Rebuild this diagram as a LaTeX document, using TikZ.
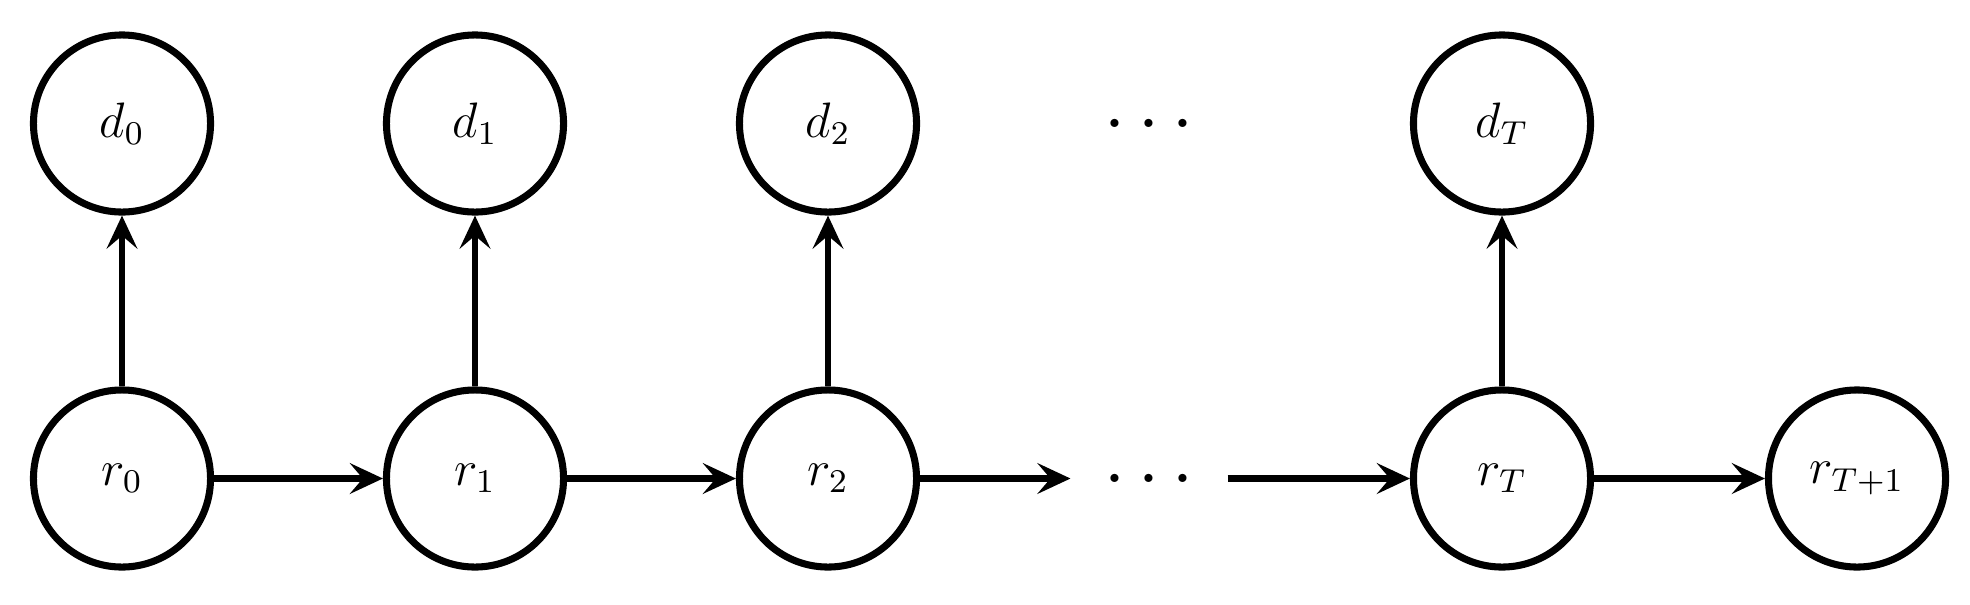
\documentclass[tikz,border=0pt]{standalone}
\usetikzlibrary{arrows.meta}
\newcommand\hdots{{\fontsize{24}{26}\selectfont .\hspace{2.2pt}.\hspace{2.2pt}.}}
\begin{document}
\begin{tikzpicture}[x=0.0847mm, y=-0.0847mm,
  var/.style={circle, draw, line width=1.7pt, minimum size=15mm, inner sep=0pt, font=\fontsize{12}{14}\selectfont},
  dotsnode/.style={rectangle, minimum width=13.3mm, minimum height=5mm, inner sep=0pt, outer sep=0pt},
  conn/.style={line width=1.6pt, -{Stealth[length=2.8mm, width=2.6mm, inset=1.1mm]}}]
\useasboundingbox (0,0) rectangle (1970,604);
% top row
\node[var] (d0) at (122,123.5) {$d_0$};
\node[var] (d1) at (475,123.5) {$d_1$};
\node[var] (d2) at (828,123.5) {$d_2$};
\node[dotsnode] (dtop) at (1149,123.5) {\hdots};
\node[var] (dT) at (1502,123.5) {$d_T$};
% bottom row
\node[var] (r0) at (122,478.5) {$r_0$};
\node[var] (r1) at (475,478.5) {$r_1$};
\node[var] (r2) at (828,478.5) {$r_2$};
\node[dotsnode] (rdots) at (1149,478.5) {\hdots};
\node[var] (rT) at (1502,478.5) {$r_T$};
\node[var] (rT1) at (1857,478.5) {$r_{T+1}$};
% connectors
\draw[conn] (r0) -- (r1);
\draw[conn] (r1) -- (r2);
\draw[conn] (r2) -- (rdots);
\draw[conn] (rdots) -- (rT);
\draw[conn] (rT) -- (rT1);
\draw[conn] (r0) -- (d0);
\draw[conn] (r1) -- (d1);
\draw[conn] (r2) -- (d2);
\draw[conn] (rT) -- (dT);
\end{tikzpicture}
\end{document}
